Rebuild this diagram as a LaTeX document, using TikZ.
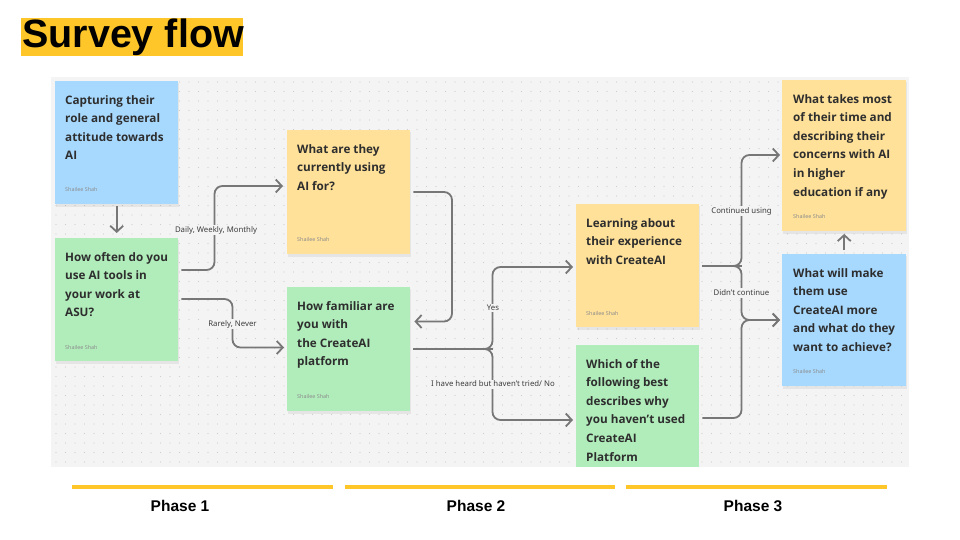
\documentclass[tikz,border=0pt]{standalone}
\usepackage{fontspec}
\setmainfont{Liberation Sans}
\newfontfamily\notefont{Open Sans}
\newfontfamily\lblfont{Noto Sans}
\usetikzlibrary{arrows.meta,calc}
\definecolor{canvas}{HTML}{F4F4F4}
\definecolor{dotc}{HTML}{CFCFCF}
\definecolor{titleyellow}{HTML}{FFC629}
\definecolor{phaseyellow}{HTML}{FFC629}
\definecolor{noteblue}{HTML}{A7D9FF}
\definecolor{notegreen}{HTML}{B1EDBB}
\definecolor{noteyellow}{HTML}{FFE199}
\definecolor{textdark}{HTML}{2E2E2E}
\definecolor{lbltext}{HTML}{3C3C3C}
\definecolor{authorgray}{HTML}{8C8C8C}
\definecolor{linegray}{HTML}{777777}
\tikzset{
  note/.style={rectangle, inner sep=0, anchor=north west, draw=none},
  notetext/.style={anchor=north west, inner sep=0, align=left, text=textdark,
    font=\notefont\bfseries\fontsize{11.7}{18.6}\selectfont},
  author/.style={anchor=base west, inner sep=0, text=authorgray,
    font=\lblfont\fontsize{5.4}{6}\selectfont},
  conn/.style={draw=linegray, line width=1.8pt, rounded corners=8pt,
    -{Straight Barb[length=6pt,width=13pt,line width=1.8pt]}},
  connplain/.style={draw=linegray, line width=1.8pt, rounded corners=8pt},
  lbl/.style={fill=canvas, inner sep=1.5pt, text=lbltext,
    font=\lblfont\fontsize{7.8}{9}\selectfont},
  phasebar/.style={draw=phaseyellow, line width=3.5pt},
  phaselbl/.style={inner sep=0, anchor=base, font=\bfseries\fontsize{15.5}{17}\selectfont},
  shadowbox/.style={fill=black, opacity=0.06}
}
\begin{document}
\begin{tikzpicture}[x=1pt,y=-1pt]
\useasboundingbox (0,0) rectangle (960,540);
\fill[white] (0,0) rectangle (960,540);
% title
\fill[titleyellow] (21,18) rectangle (243,56);
\node[anchor=west, inner sep=0, font=\bfseries\fontsize{39.5}{41}\selectfont] (title) at (22,37.5) {Survey flow};
% canvas
\fill[canvas] (51,77) rectangle (909,467);
\foreach \x in {56,65.5,...,905} {
  \foreach \y in {82,91.5,...,465} {
    \fill[dotc] (\x,\y) circle (0.55);
  }
}
% shadows
\foreach \a/\b/\c/\d in {55/81/178/204, 55/238/178/361, 287/130/410/254, 287/287/410/411, 576/204/699/327, 782/80/906/231, 782/254/906/386} {
  \fill[shadowbox] (\a+1,\b+2) rectangle (\c+1,\d+2.5);
}
% notes
\node[note, fill=noteblue, minimum width=123pt, minimum height=123pt] (b1) at (55,81) {};
\node[note, fill=notegreen, minimum width=123pt, minimum height=123pt] (b2) at (55,238) {};
\node[note, fill=noteyellow, minimum width=123pt, minimum height=124pt] (b3) at (287,130) {};
\node[note, fill=notegreen, minimum width=123pt, minimum height=124pt] (b4) at (287,287) {};
\node[note, fill=noteyellow, minimum width=123pt, minimum height=123pt] (b5) at (576,204) {};
\node[note, fill=notegreen, minimum width=123pt, minimum height=122pt] (b6) at (576,345) {};
\node[note, fill=noteyellow, minimum width=124pt, minimum height=151pt] (b7) at (782,80) {};
\node[note, fill=noteblue, minimum width=124pt, minimum height=132pt] (b8) at (782,254) {};
% note texts
\node[notetext] (b1t) at ($(b1.north west)+(10,14)$) {Capturing their\\role and general\\attitude towards\\AI};
\node[notetext] (b2t) at ($(b2.north west)+(10,14)$) {How often do you\\use AI tools in\\your work at\\ASU?};
\node[notetext] (b3t) at ($(b3.north west)+(10,14)$) {What are they\\currently using\\AI for?};
\node[notetext] (b4t) at ($(b4.north west)+(10,14)$) {How familiar are\\you with\\the CreateAI\\platform};
\node[notetext] (b5t) at ($(b5.north west)+(10,14)$) {Learning about\\their experience\\with CreateAI};
\node[notetext] (b6t) at ($(b6.north west)+(10,14)$) {Which of the\\following best\\describes why\\you haven’t used\\CreateAI\\Platform};
\node[notetext] (b7t) at ($(b7.north west)+(11,14)$) {What takes most\\of their time and\\describing their\\concerns with AI\\in higher\\education if any};
\node[notetext] (b8t) at ($(b8.north west)+(11,14)$) {What will make\\them use\\CreateAI more\\and what do they\\want to achieve?};
% authors
\node[author] (b1a) at ($(b1.south west)+(10,-13)$) {Shailee Shah};
\node[author] (b2a) at ($(b2.south west)+(10,-12)$) {Shailee Shah};
\node[author] (b3a) at ($(b3.south west)+(10,-13)$) {Shailee Shah};
\node[author] (b4a) at ($(b4.south west)+(10,-13)$) {Shailee Shah};
\node[author] (b5a) at ($(b5.south west)+(10,-12)$) {Shailee Shah};
\node[author] (b7a) at ($(b7.south west)+(11,-13)$) {Shailee Shah};
\node[author] (b8a) at ($(b8.south west)+(11,-13)$) {Shailee Shah};
% connectors
\draw[conn] ($(b1.south)+(0,2)$) -- ($(b2.north)+(0,-5)$);
\draw[conn] ($(b2.north east)+(3,32)$) -- (214.5,270) -- (214.5,186) -- ($(b3.north west)+(-4,56)$);
\draw[conn] ($(b2.north east)+(3,61)$) -- (232.5,299) -- (232.5,347.5) -- ($(b4.north west)+(-3,60.5)$);
\draw[conn] ($(b3.north east)+(3,62)$) -- (452,192) -- (452,321.5) -- ($(b4.north east)+(4,34.5)$);
\draw[connplain] ($(b4.north east)+(3,62)$) -- (493,349);
\draw[conn] (480,349) -- (492.5,349) -- (492.5,267) -- ($(b5.north west)+(-3,63)$);
\draw[conn] (480,349) -- (492.5,349) -- (492.5,420) -- ($(b6.north west)+(-3,75)$);
\draw[connplain] ($(b5.north east)+(3,62)$) -- (741.5,266);
\draw[conn] (730,266) -- (741.5,266) -- (741.5,155) -- ($(b7.north west)+(-2,75)$);
\draw[conn] (730,266) -- (741.5,266) -- (741.5,320) -- ($(b8.north west)+(-2,66)$);
\draw[conn] ($(b6.north east)+(3,73)$) -- (741.5,418) -- (741.5,320) -- ($(b8.north west)+(-2,66)$);
\draw[conn] ($(b8.north)+(0,-4)$) -- ($(b7.south)+(0,2.5)$);
% connector labels
\node[lbl] (l1) at (216,230) {Daily, Weekly, Monthly};
\node[lbl] (l2) at (232.5,324) {Rarely, Never};
\node[lbl] (l3) at (493,308) {Yes};
\node[lbl] (l4) at (493,384) {I have heard but haven’t tried/ No};
\node[lbl] (l5) at (741.5,211) {Continued using};
\node[lbl] (l6) at (741.5,293) {Didn’t continue};
% phases
\draw[phasebar] (72,487) -- (333,487);
\draw[phasebar] (345,487) -- (615,487);
\draw[phasebar] (626,487) -- (887,487);
\node[phaselbl] (p1) at (180,511.5) {Phase 1};
\node[phaselbl] (p2) at (476,511.5) {Phase 2};
\node[phaselbl] (p3) at (753,511.5) {Phase 3};
\end{tikzpicture}
\end{document}
